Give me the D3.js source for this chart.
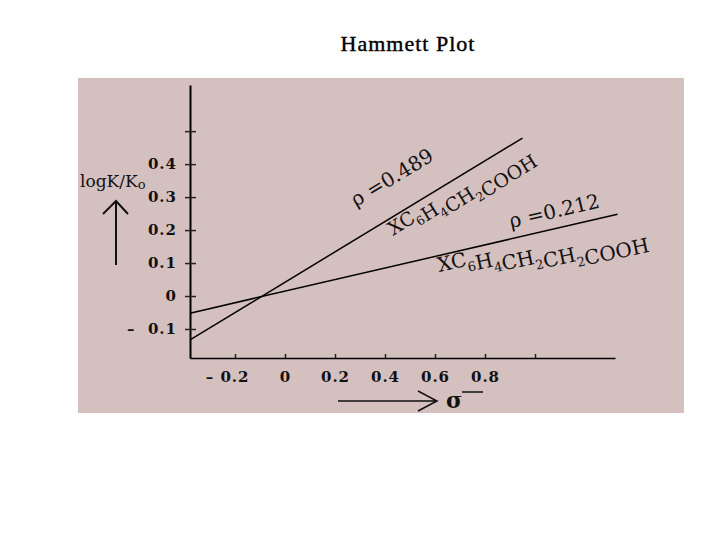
<!DOCTYPE html>
<html>
<head>
<meta charset="utf-8">
<script src="https://cdn.jsdelivr.net/npm/d3@7"></script>
<style>
  body { margin: 0; background: #fff; }
  svg text { white-space: pre; }
</style>
</head>
<body>
<div id="vis"></div>
<script>
// data
var sigmaTicks = [-0.2, 0, 0.2, 0.4, 0.6, 0.8, 1.0];
var sigmaTickLabels = ["\u2013 0.2", "0", "0.2", "0.4", "0.6", "0.8", ""];
var logTicks = [-0.1, 0, 0.1, 0.2, 0.3, 0.4, 0.5];
var logTickLabels = ["\u2013  0.1", "0", "0.1", "0.2", "0.3", "0.4", ""];

// two straight lines (end points)
var acidSigma = [-0.38, 0.95];      // XC6H4CH2COOH, rho = 0.489
var acidLogK = [-0.133, 0.479];
var propSigma = [-0.38, 1.33];      // XC6H4CH2CH2COOH, rho = 0.212
var propLogK = [-0.052, 0.248];

var width = 720, height = 540;
var serif = "'DejaVu Serif', serif";

var svg = d3.select("#vis")
  .append("svg")
  .attr("width", width)
  .attr("height", height);

// title
svg.append("text")
  .attr("x", 408)
  .attr("y", 51)
  .attr("text-anchor", "middle")
  .attr("font-family", "'Liberation Serif', 'Times New Roman', serif")
  .attr("font-size", "22px")
  .attr("letter-spacing", "1px")
  .attr("stroke", "#000")
  .attr("stroke-width", 0.4)
  .text("Hammett Plot");

// pinkish panel of the scanned figure
svg.append("rect")
  .attr("x", 78)
  .attr("y", 78)
  .attr("width", 606)
  .attr("height", 335)
  .attr("fill", "#d5c0c0");

var x = d3.scaleLinear().domain([-0.38, 1.32]).range([190, 615]),
    y = d3.scaleLinear().domain([-0.188, 0.64]).range([358, 85]);

// x axis
var xAxis = svg.append("g")
  .attr("transform", "translate(0," + y(-0.188) + ")")
  .call(d3.axisBottom(x)
    .tickValues(sigmaTicks)
    .tickSizeInner(-4)
    .tickSizeOuter(0)
    .tickPadding(13)
    .tickFormat(function(d, i) { return sigmaTickLabels[i]; }));

xAxis.select(".domain").attr("stroke", "#000").attr("stroke-width", 1.5);
xAxis.selectAll("line").attr("stroke", "#222").attr("stroke-width", 1.5);
xAxis.selectAll("text")
  .attr("font-family", serif)
  .attr("font-size", "15px")
  .attr("font-weight", "bold")
  .attr("letter-spacing", "1px")
  .attr("fill", "#111")
  .attr("text-anchor", function(d) { return d < 0 ? "end" : "middle"; })
  .attr("dx", function(d) { return d < 0 ? 14 : 0; });

// y axis
var yAxis = svg.append("g")
  .attr("transform", "translate(" + x(-0.38) + ",0)")
  .call(d3.axisLeft(y)
    .tickValues(logTicks)
    .tickSizeInner(5)
    .tickSizeOuter(0)
    .tickPadding(8)
    .tickFormat(function(d, i) { return logTickLabels[i]; }));

yAxis.select(".domain").attr("stroke", "#000").attr("stroke-width", 2);
yAxis.selectAll("line").attr("x1", 6).attr("stroke", "#222").attr("stroke-width", 1.5);
yAxis.selectAll("text")
  .attr("font-family", serif)
  .attr("font-size", "15px")
  .attr("font-weight", "bold")
  .attr("letter-spacing", "1px")
  .attr("fill", "#111");

// the two Hammett lines
var line = d3.line()
  .x(function(d) { return x(d[0]); })
  .y(function(d) { return y(d[1]); });

svg.append("path")
  .datum(d3.zip(acidSigma, acidLogK))
  .attr("d", line)
  .attr("fill", "none")
  .attr("stroke", "#000")
  .attr("stroke-width", 1.5);

svg.append("path")
  .datum(d3.zip(propSigma, propLogK))
  .attr("d", line)
  .attr("fill", "none")
  .attr("stroke", "#000")
  .attr("stroke-width", 1.5);

// helper for rotated formula labels with subscripts
function formula(px, py, angle, size, parts) {
  var t = svg.append("text")
    .attr("transform", "translate(" + px + "," + py + ") rotate(" + angle + ")")
    .attr("font-family", serif)
    .attr("font-size", size + "px")
    .attr("fill", "#111");
  parts.forEach(function(p) {
    if (p.sub) {
      t.append("tspan").attr("dy", size * 0.3).attr("font-size", (size * 0.65) + "px").text(p.sub);
      t.append("tspan").attr("dy", -size * 0.3).text("");
    } else {
      t.append("tspan").text(p.t);
    }
  });
}

formula(356, 207, -31, 20, [{t: "\u03c1 =0.489"}]);
formula(393, 236, -32, 19, [{t: "XC"}, {sub: "6"}, {t: "H"}, {sub: "4"}, {t: "CH"}, {sub: "2"}, {t: "COOH"}]);
formula(511, 228, -13, 20, [{t: "\u03c1 =0.212"}]);
formula(439, 272, -12, 20, [{t: "XC"}, {sub: "6"}, {t: "H"}, {sub: "4"}, {t: "CH"}, {sub: "2"}, {t: "CH"}, {sub: "2"}, {t: "COOH"}]);

// y axis title with upward arrow
var yTitle = svg.append("text")
  .attr("x", 80)
  .attr("y", 187)
  .attr("font-family", serif)
  .attr("font-size", "17px")
  .attr("fill", "#111")
  .text("logK/K");
yTitle.append("tspan").attr("dy", 2).attr("font-size", "13px").text("o");

svg.append("path")
  .attr("d", "M116,265 L116,201 M103,214 L116,201 L128,214")
  .attr("fill", "none")
  .attr("stroke", "#111")
  .attr("stroke-width", 2);

// x axis title: arrow and sigma
svg.append("path")
  .attr("d", "M338,401 L437,401 M418,391 L437,401 L418,411")
  .attr("fill", "none")
  .attr("stroke", "#111")
  .attr("stroke-width", 1.5);

svg.append("text")
  .attr("x", 446)
  .attr("y", 408)
  .attr("font-family", serif)
  .attr("font-size", "22px")
  .attr("font-weight", "bold")
  .attr("fill", "#111")
  .text("\u03c3");

svg.append("line")
  .attr("x1", 462).attr("x2", 483)
  .attr("y1", 392).attr("y2", 392)
  .attr("stroke", "#111")
  .attr("stroke-width", 1.5);
</script>
</body>
</html>
